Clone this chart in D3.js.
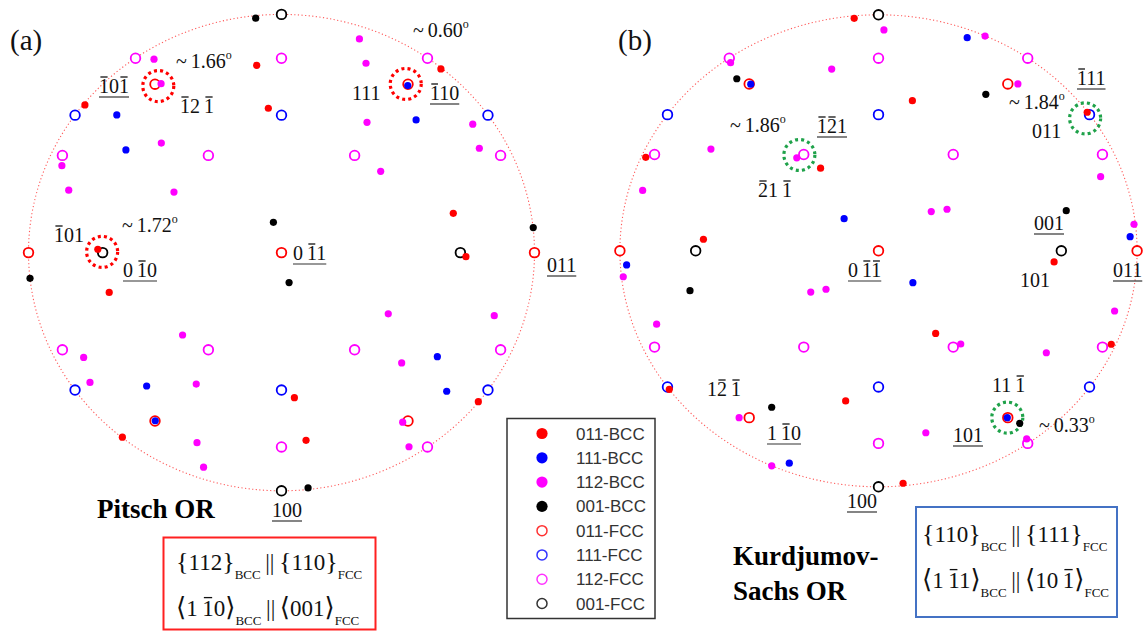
<!DOCTYPE html>
<html>
<head>
<meta charset="utf-8">
<script src="https://cdn.jsdelivr.net/npm/d3@7"></script>
<style>
  body { margin: 0; background: #fff; }
  svg { display: block; }
  .pole { font-family: "Liberation Serif", "Times New Roman", serif; font-size: 20px; fill: #111; }
  .title { font-family: "Liberation Serif", "Times New Roman", serif; font-weight: bold; font-size: 27px; fill: #000; }
  .legendText { font-family: "Liberation Sans", Arial, sans-serif; font-size: 17px; fill: #333; }
</style>
</head>
<body>
<script>
(function(){

    //pole positions, normalised to the projection circle (u right, v up)
    var pitschBcc011 = [[-0.098,0.786],[-0.777,0.620],[-0.052,0.606],[0.630,0.771],[-0.726,0.014],[-0.681,-0.167],[0.679,0.165],[0.729,-0.017],[0.051,-0.609],[0.778,-0.626],[-0.629,-0.775],[0.097,-0.788]];
    var pitschBcc111 = [[-0.651,0.578],[-0.615,0.431],[0.499,0.701],[0.532,0.557],[-0.533,-0.560],[-0.499,-0.706],[0.616,-0.437],[0.653,-0.582]];
    var pitschBcc112 = [[-0.504,0.812],[-0.476,0.709],[-0.475,0.460],[-0.868,0.365],[-0.841,0.262],[-0.425,0.254],[0.308,0.897],[0.334,0.795],[0.338,0.547],[0.756,0.539],[0.782,0.438],[0.392,0.341],[-0.391,-0.346],[-0.782,-0.440],[-0.757,-0.545],[-0.337,-0.552],[-0.334,-0.798],[-0.308,-0.901],[0.422,-0.257],[0.841,-0.265],[0.475,-0.463],[0.479,-0.712],[0.504,-0.815]];
    var pitschBcc001 = [[-0.102,0.984],[-0.032,0.127],[0.995,0.105],[-0.994,-0.108],[0.030,-0.126],[0.105,-0.988]];

    var ksBcc011 = [[-0.094,0.985],[0.131,0.636],[-0.900,0.396],[-0.224,0.350],[-0.677,0.049],[0.807,0.587],[0.679,-0.047],[-0.809,-0.587],[-0.127,-0.636],[0.221,-0.350],[0.900,-0.396],[0.095,-0.985]];
    var ksBcc111 = [[0.343,0.903],[-0.494,0.706],[-0.133,0.136],[0.973,0.060],[-0.974,-0.060],[0.133,-0.135],[-0.345,-0.900],[0.498,-0.707]];
    var ksBcc112 = [[0.021,0.936],[0.412,0.910],[-0.572,0.797],[-0.181,0.770],[0.539,0.707],[-0.648,0.431],[-0.316,0.394],[0.859,0.314],[-0.912,0.256],[0.204,0.166],[0.265,0.176],[0.988,0.112],[-0.987,-0.110],[-0.262,-0.175],[-0.203,-0.163],[0.913,-0.255],[-0.858,-0.311],[0.318,-0.395],[0.649,-0.432],[-0.539,-0.707],[0.183,-0.771],[0.573,-0.797],[-0.413,-0.911]];
    var ksBcc001 = [[-0.548,0.729],[0.415,0.663],[0.726,0.170],[-0.729,-0.169],[-0.413,-0.663],[0.546,-0.731]];

    //fcc poles are the same in both projections
    var fcc011 = [[-0.5,0.707],[0.5,0.707],[-1,0],[0,0],[1,0],[-0.5,-0.707],[0.5,-0.707]];
    var fcc111 = [[-0.816,0.577],[0,0.577],[0.816,0.577],[-0.816,-0.577],[0,-0.577],[0.816,-0.577]];
    var fcc112 = [[-0.577,0.816],[0,0.816],[0.577,0.816],[-0.866,0.408],[-0.289,0.408],[0.289,0.408],[0.866,0.408],[-0.866,-0.408],[-0.289,-0.408],[0.289,-0.408],[0.866,-0.408],[0,-0.816],[0.577,-0.816]];
    var fcc001 = [[0,1],[-0.707,0],[0.707,0],[0,-1]];

    //highlighted pole pairs
    var pitschRings = [[-0.487,0.699],[-0.709,0.003],[0.491,0.708]];
    var ksRings = [[-0.306,0.406],[0.799,0.561],[0.498,-0.707]];

    var seriesNames = ["011-BCC", "111-BCC", "112-BCC", "001-BCC", "011-FCC", "111-FCC", "112-FCC", "001-FCC"];
    var seriesColors = ["#ff0000", "#0000ff", "#ff00ff", "#000000", "#ff0000", "#0000ff", "#ff00ff", "#000000"];

    var width = 1144, height = 631;

    var svg = d3.select("body")
        .append("svg")
        .attr("width", width)
        .attr("height", height);

    var panels = [
        {cx: 281.5, cy: 252.6, rx: 253, ry: 238.2, bcc: [pitschBcc011, pitschBcc111, pitschBcc112, pitschBcc001], rings: pitschRings, ringColor: "#ff0000"},
        {cx: 878.5, cy: 250.8, rx: 258.6, ry: 236, bcc: [ksBcc011, ksBcc111, ksBcc112, ksBcc001], rings: ksRings, ringColor: "#1fa24a"}
    ];
    var fccSets = [fcc011, fcc111, fcc112, fcc001];

    panels.forEach(function(p){
        var x = d3.scaleLinear().domain([-1, 1]).range([p.cx - p.rx, p.cx + p.rx]);
        var y = d3.scaleLinear().domain([-1, 1]).range([p.cy + p.ry, p.cy - p.ry]);
        var g = svg.append("g");

        //dotted primitive circle
        g.append("ellipse")
            .attr("cx", x(0)).attr("cy", y(0))
            .attr("rx", x(1) - x(0)).attr("ry", y(0) - y(1))
            .attr("fill", "none")
            .attr("stroke", "#ff5a5a")
            .attr("stroke-width", 1.1)
            .attr("stroke-dasharray", "1.2,2.4");

        //highlight rings
        g.selectAll(".ring")
            .data(p.rings)
            .enter()
            .append("circle")
            .attr("class", "ring")
            .attr("cx", function(d){ return x(d[0]); })
            .attr("cy", function(d){ return y(d[1]); })
            .attr("r", 15.5)
            .attr("fill", "none")
            .attr("stroke", p.ringColor)
            .attr("stroke-width", 3.2)
            .attr("stroke-dasharray", "3,3.2");

        //fcc poles, open circles
        fccSets.forEach(function(set, i){
            g.selectAll(".fcc" + i)
                .data(set)
                .enter()
                .append("circle")
                .attr("class", "fcc" + i)
                .attr("cx", function(d){ return x(d[0]); })
                .attr("cy", function(d){ return y(d[1]); })
                .attr("r", 4.8)
                .attr("fill", "#fff")
                .attr("stroke", seriesColors[i + 4])
                .attr("stroke-width", 1.8);
        });

        //bcc poles, filled dots
        p.bcc.forEach(function(set, i){
            g.selectAll(".bcc" + i)
                .data(set)
                .enter()
                .append("circle")
                .attr("class", "bcc" + i)
                .attr("cx", function(d){ return x(d[0]); })
                .attr("cy", function(d){ return y(d[1]); })
                .attr("r", 3.6)
                .attr("fill", seriesColors[i]);
        });
    });

    //text with overlined characters ("^" marks the next character)
    function richText(parent, x, y, segs, cls, underline){
        var text = parent.append("text").attr("class", cls).attr("x", x).attr("y", y);
        var bars = [], count = 0;
        segs.forEach(function(s){
            var plain = "";
            for (var i = 0; i < s.t.length; i++){
                if (s.t[i] === "^"){
                    bars.push({i: count + plain.length, size: s.size || 20, shift: s.shift || 0});
                } else {
                    plain += s.t[i];
                }
            }
            var ts = text.append("tspan").attr("y", y + (s.shift || 0)).text(plain);
            if (s.size) ts.style("font-size", s.size + "px");
            if (s.font) ts.style("font-family", s.font);
            count += plain.length;
        });
        var node = text.node();
        bars.forEach(function(b){
            var ext = node.getExtentOfChar(b.i);
            parent.append("line")
                .attr("x1", ext.x + ext.width * 0.14)
                .attr("x2", ext.x + ext.width * 0.86)
                .attr("y1", y + b.shift - b.size * 0.8)
                .attr("y2", y + b.shift - b.size * 0.8)
                .attr("stroke", "#111")
                .attr("stroke-width", 1.3);
        });
        if (underline){
            var bb = node.getBBox();
            parent.append("line")
                .attr("x1", bb.x).attr("x2", bb.x + bb.width)
                .attr("y1", y + 4).attr("y2", y + 4)
                .attr("stroke", "#333")
                .attr("stroke-width", 1.2);
        }
        return text;
    }

    var deg = function(v){ return [{t: "~\u2009" + v}, {t: "o", size: 12, shift: -9}]; };

    var poleLabels = [
        {s: deg("1.66"), x: 176, y: 68},
        {s: [{t: "^10^1"}], x: 99, y: 93, u: true},
        {s: [{t: "^12\u2009^1"}], x: 180, y: 113},
        {s: deg("0.60"), x: 413, y: 37},
        {s: [{t: "111"}], x: 352, y: 100},
        {s: [{t: "^110"}], x: 430, y: 100, u: true},
        {s: deg("1.72"), x: 122, y: 232},
        {s: [{t: "^101"}], x: 54, y: 242},
        {s: [{t: "0\u2009^10"}], x: 123, y: 277, u: true},
        {s: [{t: "0\u2009^11"}], x: 293, y: 260, u: true},
        {s: [{t: "011"}], x: 547, y: 272, u: true},
        {s: [{t: "100"}], x: 272, y: 517, u: true},
        {s: deg("1.86"), x: 730, y: 132},
        {s: [{t: "^1^21"}], x: 817, y: 133, u: true},
        {s: [{t: "^21\u2009^1"}], x: 758, y: 197},
        {s: [{t: "^111"}], x: 1077, y: 85, u: true},
        {s: deg("1.84"), x: 1009, y: 109},
        {s: [{t: "011"}], x: 1032, y: 138},
        {s: [{t: "001"}], x: 1034, y: 230, u: true},
        {s: [{t: "0\u2009^1^1"}], x: 848, y: 277, u: true},
        {s: [{t: "011"}], x: 1113, y: 277, u: true},
        {s: [{t: "101"}], x: 1020, y: 287},
        {s: [{t: "1^2\u2009^1"}], x: 707, y: 396},
        {s: [{t: "1\u2009^10"}], x: 767, y: 440, u: true},
        {s: [{t: "11\u2009^1"}], x: 992, y: 392},
        {s: deg("0.33"), x: 1039, y: 432},
        {s: [{t: "101"}], x: 953, y: 442, u: true},
        {s: [{t: "100"}], x: 847, y: 508, u: true}
    ];

    var labels = svg.append("g");
    poleLabels.forEach(function(l){
        richText(labels, l.x, l.y, l.s, "pole", l.u);
    });

    //panel tags and titles
    labels.append("text").attr("class", "pole").attr("x", 10).attr("y", 50).style("font-size", "29px").text("(a)");
    labels.append("text").attr("class", "pole").attr("x", 618).attr("y", 50).style("font-size", "29px").text("(b)");
    labels.append("text").attr("class", "title").attr("x", 97).attr("y", 518).text("Pitsch OR");
    labels.append("text").attr("class", "title").attr("x", 733).attr("y", 565).text("Kurdjumov-");
    labels.append("text").attr("class", "title").attr("x", 733).attr("y", 600).text("Sachs OR");

    //orientation relationship boxes
    var bracketFont = "'DejaVu Serif', 'DejaVu Sans', serif";
    function relation(a, b, open, close, font){
        return [
            {t: open, size: 26, font: font}, {t: a, size: 23}, {t: close, size: 26, font: font},
            {t: "BCC", size: 13, shift: 9}, {t: "\u2009||\u2009", size: 23},
            {t: open, size: 26, font: font}, {t: b, size: 23}, {t: close, size: 26, font: font},
            {t: "FCC", size: 13, shift: 9}
        ];
    }

    var boxes = svg.append("g");
    boxes.append("rect").attr("x", 163.5).attr("y", 537.5).attr("width", 212).attr("height", 92)
        .attr("fill", "none").attr("stroke", "#ff2020").attr("stroke-width", 2);
    richText(boxes, 176, 570, relation("112", "110", "{", "}"), "pole");
    richText(boxes, 176, 616, relation("1\u2009^10", "001", "\u27e8", "\u27e9", bracketFont), "pole");

    boxes.append("rect").attr("x", 916).attr("y", 507).attr("width", 201).attr("height", 110)
        .attr("fill", "none").attr("stroke", "#4472c4").attr("stroke-width", 2);
    richText(boxes, 922, 542, relation("110", "111", "{", "}"), "pole");
    richText(boxes, 922, 588, relation("1\u2009^11", "10\u2009^1", "\u27e8", "\u27e9", bracketFont), "pole");

    //legend
    var legend = svg.append("g");
    legend.append("rect").attr("x", 507).attr("y", 418.5).attr("width", 148).attr("height", 200)
        .attr("fill", "#fff").attr("stroke", "#333").attr("stroke-width", 1.5);
    var rowY = d3.scaleLinear().domain([0, 7]).range([433.5, 603.5]);
    var items = legend.selectAll(".item")
        .data(seriesNames)
        .enter()
        .append("g")
        .attr("class", "item");
    items.append("circle")
        .attr("cx", 542)
        .attr("cy", function(d, i){ return rowY(i); })
        .attr("r", function(d, i){ return i < 4 ? 5.6 : 5; })
        .attr("fill", function(d, i){ return i < 4 ? seriesColors[i] : "#fff"; })
        .attr("stroke", function(d, i){ return i < 4 ? "none" : seriesColors[i]; })
        .attr("stroke-width", 1.5)
        .attr("opacity", function(d, i){ return i < 4 ? 1 : 0.8; });
    items.append("text")
        .attr("class", "legendText")
        .attr("x", 576)
        .attr("y", function(d, i){ return rowY(i) + 6; })
        .text(function(d){ return d; });

})();
</script>
</body>
</html>
